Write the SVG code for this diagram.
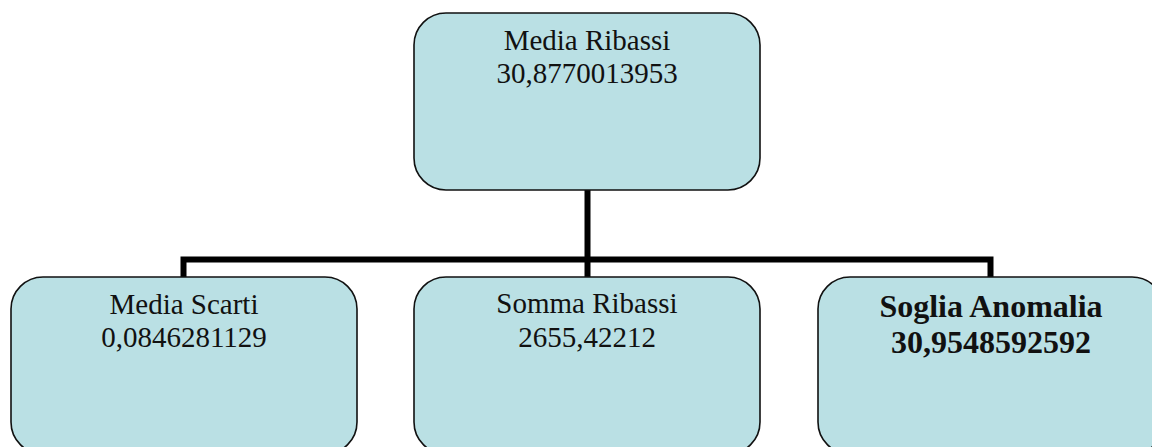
<svg xmlns="http://www.w3.org/2000/svg" width="1152" height="447" viewBox="0 0 1152 447">
<style>
.box{fill:#bae0e4;stroke:#111;stroke-width:1.6}
.t{font-family:"Liberation Serif","Times New Roman",serif;font-size:29px;fill:#111;text-anchor:middle}
.b{font-family:"Liberation Serif","Times New Roman",serif;font-size:32px;font-weight:bold;fill:#111;text-anchor:middle}
.c{fill:none;stroke:#000;stroke-width:6}
</style>
<rect width="1152" height="447" fill="#fff"/>
<g id="connectors">
<path class="c" d="M587.5 190V278"/>
<path class="c" d="M183.5 278V259.5H990.5V278"/>
</g>
<g id="media-ribassi">
<rect class="box" x="414" y="13" width="346" height="177" rx="32" ry="32"/>
<text class="t" x="587" y="50">Media Ribassi</text>
<text class="t" x="587" y="83">30,8770013953</text>
</g>
<g id="media-scarti">
<rect class="box" x="11" y="277" width="346" height="177" rx="32" ry="32"/>
<text class="t" x="184" y="314">Media Scarti</text>
<text class="t" x="184" y="347">0,0846281129</text>
</g>
<g id="somma-ribassi">
<rect class="box" x="414" y="277" width="346" height="177" rx="32" ry="32"/>
<text class="t" x="587" y="313">Somma Ribassi</text>
<text class="t" x="587" y="347">2655,42212</text>
</g>
<g id="soglia-anomalia">
<rect class="box" x="818" y="277" width="346" height="177" rx="32" ry="32"/>
<text class="b" x="991" y="317">Soglia Anomalia</text>
<text class="b" x="991" y="353">30,9548592592</text>
</g>
</svg>
